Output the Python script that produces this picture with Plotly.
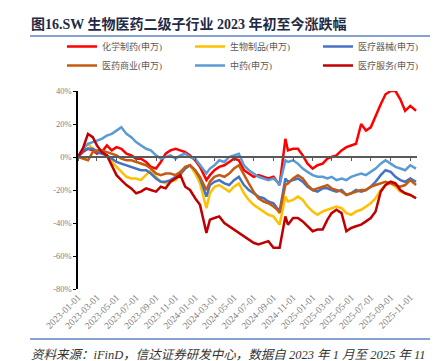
import plotly.graph_objects as go

dates = [
    "2023-01-01", "2023-01-16", "2023-02-01", "2023-02-16", "2023-03-01", "2023-03-16",
    "2023-04-01", "2023-04-16", "2023-05-01", "2023-05-16", "2023-06-01", "2023-06-16",
    "2023-07-01", "2023-07-16", "2023-08-01", "2023-08-16", "2023-09-01", "2023-09-16",
    "2023-10-01", "2023-10-16", "2023-11-01", "2023-11-16", "2023-12-01", "2023-12-16",
    "2024-01-01", "2024-01-16", "2024-02-05", "2024-02-16", "2024-03-01", "2024-03-16",
    "2024-04-01", "2024-04-16", "2024-05-01", "2024-05-16", "2024-06-01", "2024-06-16",
    "2024-07-01", "2024-07-16", "2024-08-01", "2024-08-16", "2024-09-01", "2024-09-13",
    "2024-09-20", "2024-10-08", "2024-10-16", "2024-11-01", "2024-11-16", "2024-12-01",
    "2024-12-16", "2025-01-01", "2025-01-16", "2025-02-01", "2025-02-16", "2025-03-01",
    "2025-03-16", "2025-04-01", "2025-04-16", "2025-05-01", "2025-05-16", "2025-06-01",
    "2025-06-16", "2025-07-01", "2025-07-16", "2025-08-01", "2025-08-16", "2025-09-01",
    "2025-09-16", "2025-10-01", "2025-10-16", "2025-11-01", "2025-11-19",
]

chem_pharma = [  # 化学制药(申万)
    0, 3, 5, 4, 2, 3, 7, 4, 6, 5, 2, 1,
    -1, -1, -3, -6, -7, -3, 2, 4, 5, 4, 3, 1,
    -2, -6, -14, -11, -8, -6, -5, -3, -1, -2, -8, -10,
    -12, -11, -12, -13, -12, -15, -17, 11, 4, 5, 5, 1,
    -4, -7, -5, -4, -1, 0, 1, 4, 6, 7, 8, 20,
    16, 18, 25, 32, 38, 40, 40, 35, 28, 31, 28,
]
bio_products = [  # 生物制品(申万)
    0, 5, 8, 5, 4, 3, 1, -3, -6, -9, -12, -13,
    -13, -14, -11, -8, -12, -15, -16, -15, -14, -11, -7, -5,
    -10, -16, -31, -22, -18, -17, -19, -21, -18, -16, -22, -26,
    -29, -31, -33, -35, -36, -39, -41, -24, -27, -26, -24, -26,
    -30, -33, -35, -33, -32, -31, -30, -31, -34, -35, -33, -32,
    -30, -28, -25, -20, -17, -16, -18, -21, -22, -23, -25,
]
med_devices = [  # 医疗器械(申万)
    0, 4, 5, 5, 3, 2, 1, -1, -3, -4, -5, -6,
    -7, -8, -8, -10, -13, -15, -15, -14, -12, -10, -7, -5,
    -8, -13, -24, -17, -15, -14, -16, -17, -14, -12, -17, -20,
    -22, -24, -25, -27, -28, -31, -33, -13, -15, -14, -13, -15,
    -18, -20, -21, -19, -19, -20, -21, -20, -23, -22, -20, -21,
    -20, -18, -15, -11, -8, -9, -12, -14, -15, -13, -15,
]
pharma_commerce = [  # 医药商业(申万)
    0, -1, -2, 3, 4, 4, 3, 2, 1, -1, -2, -2,
    -3, -4, -5, -7, -10, -11, -10, -10, -11, -9, -6, -5,
    -8, -12, -20, -15, -12, -11, -12, -10, -7, -5, -11, -16,
    -21, -25, -27, -28, -30, -32, -34, -17, -16, -13, -11, -13,
    -17, -20, -19, -18, -17, -19, -20, -21, -23, -22, -21, -20,
    -20, -18, -17, -16, -15, -16, -17, -18, -17, -14, -17,
]
tcm = [  # 中药(申万)
    0, 5, 8, 9, 10, 11, 13, 14, 16, 18, 14, 12,
    9, 7, 5, 4, 1, -1, 0, 1, -1, 1, 2, 0,
    -1, -5, -10, -7, -5, -2, -3, 0, 1, 2, -5, -8,
    -10, -12, -13, -14, -13, -15, -17, -2, -3, -2, -4, -7,
    -9, -11, -12, -12, -13, -12, -14, -13, -14, -12, -11, -10,
    -11, -9, -7, -4, -2, -4, -6, -7, -8, -5, -7,
]
med_services = [  # 医疗服务(申万)
    0, 5, 14, 12, 7, 3, 1, -5, -11, -14, -17, -19,
    -22, -21, -19, -20, -21, -18, -19, -15, -13, -11, -18, -20,
    -25, -29, -46, -38, -37, -36, -40, -42, -44, -46, -48, -50,
    -52, -53, -52, -51, -55, -55, -55, -36, -41, -37, -37, -39,
    -42, -45, -44, -44, -38, -34, -32, -34, -45, -43, -42, -41,
    -39, -37, -33, -21, -17, -15, -16, -20, -22, -23, -25,
]

series_names = ["化学制药(申万)", "生物制品(申万)", "医疗器械(申万)",
                "医药商业(申万)", "中药(申万)", "医疗服务(申万)"]
series_values = [chem_pharma, bio_products, med_devices, pharma_commerce, tcm, med_services]
series_colors = ["#FF0000", "#FFC000", "#4472C4", "#C55A11", "#5B9BD5", "#C00000"]

y_ticks = [40, 20, 0, -20, -40, -60, -80]
y_tick_text = ["40%", "20%", "0%", "-20%", "-40%", "-60%", "-80%"]

title_text = "图16.SW 生物医药二级子行业 2023 年初至今涨跌幅"
source_text = "资料来源：iFinD，信达证券研发中心，数据自 2023 年 1 月至 2025 年 11"

W, H = 438, 361
L, R, T, B = 70, 29, 83, 80
PW, PH = W - L - R, H - T - B


def px2x(px):
    return (px - L) / PW


def px2y(py):
    return (H - B - py) / PH


fig = go.Figure()
for name, vals, col in zip(series_names, series_values, series_colors):
    fig.add_trace(go.Scatter(
        x=dates, y=vals, name=name, mode="lines",
        line=dict(color=col, width=2.5), hoverinfo="skip",
    ))

# helper trace so the overlaying zero-axis (tick marks on 0%) gets drawn
fig.add_trace(go.Scatter(
    x=dates[:1], y=chem_pharma[:1], xaxis="x2", mode="lines",
    showlegend=False, hoverinfo="skip", line=dict(width=0),
))

x_range = ["2023-01-01", "2025-11-22"]
zero_pos = (0 - (-80)) / (40 - (-80))

serif = "Liberation Serif, Noto Sans CJK SC, serif"

fig.update_layout(
    width=W, height=H,
    margin=dict(l=L, r=R, t=T, b=B),
    plot_bgcolor="white", paper_bgcolor="white",
    font=dict(family=serif, color="#595959"),
    showlegend=True,
    legend=dict(
        orientation="h", x=px2x(67), y=px2y(24), xanchor="left", yanchor="top",
        entrywidth=83, entrywidthmode="pixels",
        font=dict(size=9, color="#595959", family=serif),
        bgcolor="rgba(0,0,0,0)", itemclick=False,
    ),
    xaxis=dict(
        type="date", range=x_range,
        tick0="2023-01-01", dtick="M2", tickformat="%Y-%m-%d",
        tickangle=-45, ticks="", showline=False, showgrid=False, zeroline=False,
        tickfont=dict(size=9.5, color="#808080", family=serif),
    ),
    xaxis2=dict(
        type="date", overlaying="x", matches="x", anchor="free", position=zero_pos,
        tick0="2023-01-01", dtick="M2", ticks="outside", ticklen=3, tickwidth=1,
        tickcolor="#595959", showticklabels=False, showline=True,
        linecolor="#595959", linewidth=1.5, showgrid=False, zeroline=False,
    ),
    yaxis=dict(
        range=[-80, 40], tickvals=y_ticks, ticktext=y_tick_text,
        ticks="outside", ticklen=3, tickcolor="#000000",
        showline=True, linecolor="#000000", linewidth=1.5,
        showgrid=False, zeroline=False,
        tickfont=dict(size=8.5, color="#808080", family=serif),
    ),
    shapes=[
        dict(type="line", xref="paper", yref="paper",
             x0=px2x(22), x1=px2x(424), y0=px2y(28), y1=px2y(28),
             line=dict(color="#5B84C4", width=1.5)),
        dict(type="line", xref="paper", yref="paper",
             x0=px2x(22), x1=px2x(424), y0=px2y(331), y1=px2y(331),
             line=dict(color="#5B84C4", width=1.5)),
    ],
    annotations=[
        dict(text="<b>" + title_text + "</b>", xref="paper", yref="paper",
             x=px2x(21), y=px2y(16), xanchor="left", yanchor="middle",
             showarrow=False, font=dict(size=14, color="#1F2A44", family=serif)),
        dict(text="<i>" + source_text + "</i>", xref="paper", yref="paper",
             x=px2x(21), y=px2y(347), xanchor="left", yanchor="middle",
             showarrow=False, font=dict(size=12.5, color="#333333", family=serif)),
    ],
)

fig.write_html("out.html")
